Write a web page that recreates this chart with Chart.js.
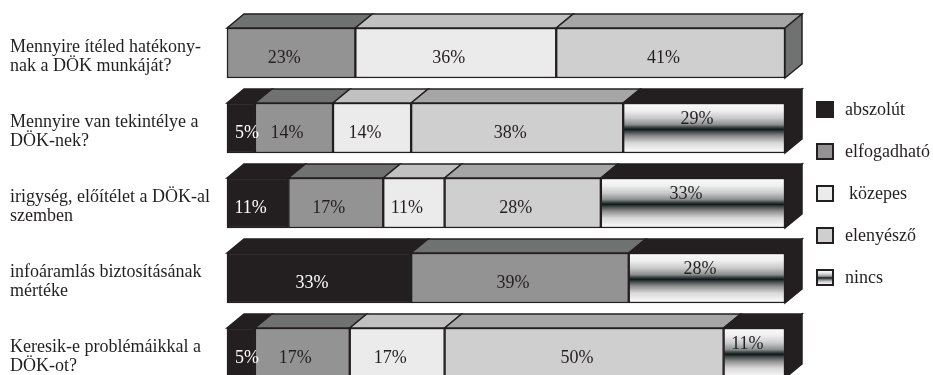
<!DOCTYPE html>
<html>
<head>
<meta charset="utf-8">
<script src="https://cdn.jsdelivr.net/npm/chart.js@4.4.0/dist/chart.umd.min.js"></script>
<style>
  html, body { margin: 0; padding: 0; background: #fff; }
</style>
</head>
<body>
<canvas id="dokChart" width="933" height="375"></canvas>
<script>
// survey questions (two lines each)
const questions = [
  ['Mennyire ítéled hatékony-', 'nak a DÖK munkáját?'],
  ['Mennyire van tekintélye a', 'DÖK-nek?'],
  ['irigység, előítélet a DÖK-al', 'szemben'],
  ['infoáramlás biztosításának', 'mértéke'],
  ['Keresik-e problémáikkal a', 'DÖK-ot?']
];

// answer shares in percent, null = answer not present for that question
const abszolut    = [null, 5, 11, 33, 5];
const elfogadhato = [23, 14, 17, 39, 17];
const kozepes     = [36, 14, 11, null, 17];
const elenyeszo   = [41, 38, 28, null, 50];
const nincs       = [null, 29, 33, 28, 11];

const INK = '#231f20';
const DX = 17, DY = 14;   // depth of the 3d boxes
const FONT = "'Liberation Serif', 'Times New Roman', serif";

// metallic stripe used for "nincs"
function metalGradient(ctx, top, bottom) {
  const g = ctx.createLinearGradient(0, top, 0, bottom);
  g.addColorStop(0, '#fbfbfb');
  g.addColorStop(0.15, '#f0f0f0');
  g.addColorStop(0.3, '#cacaca');
  g.addColorStop(0.43, '#8a9090');
  g.addColorStop(0.5, '#2c3232');
  g.addColorStop(0.53, '#0e1c1c');
  g.addColorStop(0.57, '#3e4444');
  g.addColorStop(0.66, '#8c8c8c');
  g.addColorStop(0.8, '#d8d8d8');
  g.addColorStop(1, '#ffffff');
  return g;
}

function nincsFill(context) {
  const chart = context.chart;
  if (!chart.chartArea) return '#999';
  const yc = chart.scales.y.getPixelForValue(context.dataIndex);
  return metalGradient(chart.ctx, yc - 25, yc + 25);
}

const series = [
  { label: 'abszolút',    data: abszolut,    front: INK,       top: INK,       side: INK,       text: '#ffffff' },
  { label: 'elfogadható', data: elfogadhato, front: '#939393', top: '#6f7271', side: '#5a5c5c', text: INK },
  { label: 'közepes',     data: kozepes,     front: '#ebebeb', top: '#c0c1c0', side: '#9a9a9a', text: INK },
  { label: 'elenyésző',   data: elenyeszo,   front: '#cfcfcf', top: '#a6a6a6', side: '#6f7271', text: INK },
  { label: 'nincs',       data: nincs,       front: nincsFill, top: INK,       side: INK,       text: INK, metal: true }
];

// top faces, right-hand side face and value labels
const boxFaces = {
  id: 'boxFaces',
  afterDatasetsDraw(chart) {
    const ctx = chart.ctx;
    ctx.save();
    ctx.lineWidth = 1.5;
    ctx.strokeStyle = INK;
    ctx.lineJoin = 'miter';
    questions.forEach((q, i) => {
      let last = -1;
      series.forEach((s, d) => {
        const v = chart.data.datasets[d].data[i];
        if (v === null) return;
        const bar = chart.getDatasetMeta(d).data[i];
        const left = Math.min(bar.base, bar.x), right = Math.max(bar.base, bar.x);
        const top = bar.y - bar.height / 2;
        ctx.beginPath();
        ctx.moveTo(left, top);
        ctx.lineTo(left + DX, top - DY);
        ctx.lineTo(right + DX, top - DY);
        ctx.lineTo(right, top);
        ctx.closePath();
        ctx.fillStyle = s.top;
        ctx.fill();
        ctx.stroke();
        last = d;
      });
      if (last >= 0) {
        const bar = chart.getDatasetMeta(last).data[i];
        const right = Math.max(bar.base, bar.x);
        const top = bar.y - bar.height / 2, bottom = bar.y + bar.height / 2;
        ctx.beginPath();
        ctx.moveTo(right, top);
        ctx.lineTo(right + DX, top - DY);
        ctx.lineTo(right + DX, bottom - DY);
        ctx.lineTo(right, bottom);
        ctx.closePath();
        ctx.fillStyle = series[last].side;
        ctx.fill();
        ctx.stroke();
      }
    });

    // value labels
    ctx.font = '18px ' + FONT;
    ctx.textAlign = 'center';
    ctx.textBaseline = 'middle';
    questions.forEach((q, i) => {
      series.forEach((s, d) => {
        const v = chart.data.datasets[d].data[i];
        if (v === null) return;
        const bar = chart.getDatasetMeta(d).data[i];
        const left = Math.min(bar.base, bar.x), right = Math.max(bar.base, bar.x);
        const x = Math.max((left + right) / 2 - 7, left + 20);
        const y = s.metal ? bar.y - bar.height / 2 + 16 : bar.y + 5;
        ctx.fillStyle = s.text;
        ctx.fillText(v + '%', x, y);
      });
    });
    ctx.restore();
  }
};

// legend on the right
const sideLegend = {
  id: 'sideLegend',
  afterDraw(chart) {
    const ctx = chart.ctx;
    ctx.save();
    ctx.font = '18px ' + FONT;
    ctx.textAlign = 'left';
    ctx.textBaseline = 'middle';
    series.forEach((s, k) => {
      const y = 109 + k * 42;
      const x = 817;
      ctx.fillStyle = s.metal ? metalGradient(ctx, y - 7, y + 8) : s.front;
      ctx.fillRect(x, y - 7, 16, 15);
      ctx.lineWidth = 2;
      ctx.strokeStyle = INK;
      ctx.strokeRect(x, y - 7, 16, 15);
      ctx.fillStyle = INK;
      ctx.fillText(s.label, s.label === 'közepes' ? 849 : 845, y + 1);
    });
    ctx.restore();
  }
};

new Chart(document.getElementById('dokChart'), {
  type: 'bar',
  data: {
    labels: questions,
    datasets: series.map(s => ({
      label: s.label,
      data: s.data,
      backgroundColor: s.front,
      borderColor: INK,
      borderWidth: 1.5,
      borderSkipped: false,
      barThickness: 50,
      clip: false
    }))
  },
  options: {
    indexAxis: 'y',
    responsive: false,
    devicePixelRatio: 1,
    animation: false,
    layout: { padding: { left: 10, right: 148, top: 53, bottom: 22 } },
    plugins: { legend: { display: false }, tooltip: { enabled: false } },
    scales: {
      x: { stacked: true, min: 0, max: 100, display: false },
      y: {
        stacked: true,
        offset: false,
        grid: { display: false },
        border: { display: false },
        afterFit(scale) { scale.width = 217; },
        ticks: {
          autoSkip: false,
          crossAlign: 'far',
          labelOffset: 4,
          color: INK,
          font: { family: FONT, size: 18, lineHeight: 1.03 }
        }
      }
    }
  },
  plugins: [boxFaces, sideLegend]
});
</script>
</body>
</html>
